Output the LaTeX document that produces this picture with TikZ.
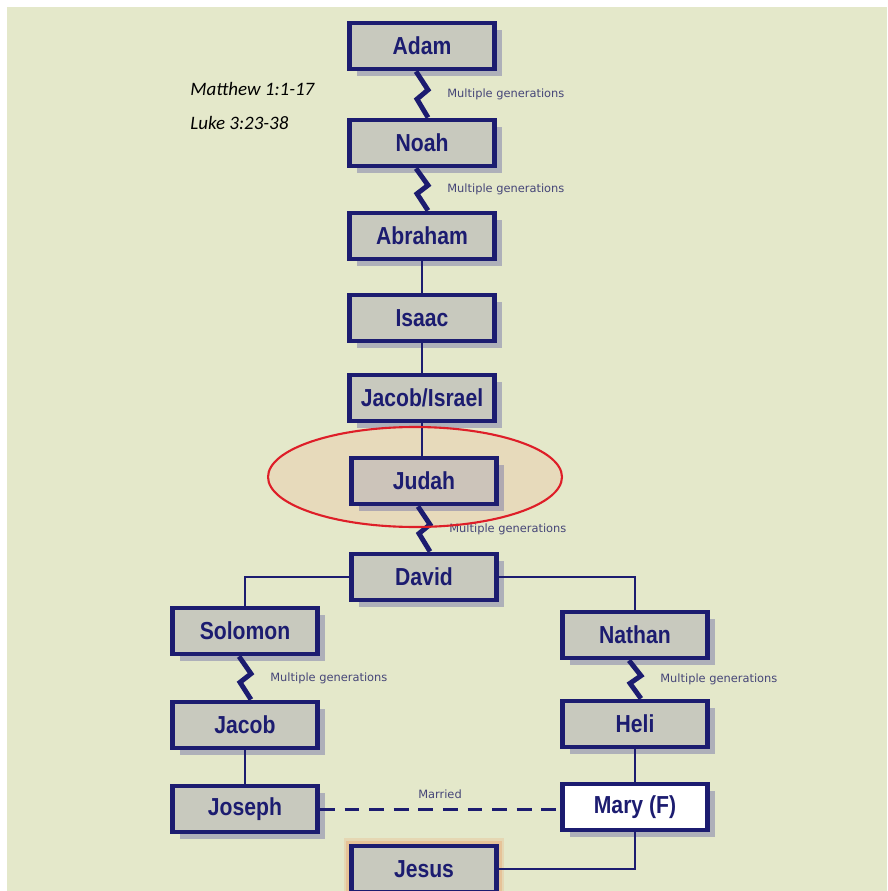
\documentclass[tikz,border=0pt]{standalone}
\usepackage{fontspec}
\setmainfont{Liberation Sans}
\newfontfamily\namefont[FakeStretch=0.86]{Liberation Sans}
\newfontfamily\notefont{Carlito}
\newfontfamily\genfont{DejaVu Sans}
\usetikzlibrary{calc,shadows}
\definecolor{navy}{RGB}{28,28,112}
\definecolor{paper}{RGB}{228,232,202}
\definecolor{boxgray}{RGB}{200,201,190}
\definecolor{judahgray}{RGB}{204,196,186}
\definecolor{shadowblue}{RGB}{110,110,165}
\definecolor{gentext}{RGB}{70,70,120}
\definecolor{circred}{RGB}{222,30,40}
\definecolor{circfill}{RGB}{236,196,165}
\definecolor{glow}{RGB}{235,150,90}

\tikzset{
  namebox/.style={draw=navy, line width=2.8pt, fill=boxgray, minimum width=2.9cm,
    minimum height=0.92cm, inner sep=0pt, text=navy,
    font=\namefont\bfseries\fontsize{14}{16}\selectfont},
  person/.style={namebox, drop shadow={shadow xshift=4pt, shadow yshift=-4pt,
    fill=shadowblue, opacity=0.45}},
  saviour/.style={namebox,
    preaction={draw=glow, line width=9pt, draw opacity=0.2},
    preaction={draw=glow, line width=6pt, draw opacity=0.3}},
  link/.style={draw=navy, line width=1.1pt},
  gens/.style={draw=navy, line width=2.8pt, line join=miter},
  genlabel/.style={font=\genfont\fontsize{6.5}{8}\selectfont, text=gentext, inner sep=0pt},
  source/.style={font=\notefont\itshape\fontsize{10.8}{13}\selectfont, anchor=west, inner sep=0pt},
}

\begin{document}
\begin{tikzpicture}[x=0.02cm, y=-0.02cm]
  \useasboundingbox (0,0) rectangle (887,891);
  \fill[paper] (7,7) rectangle (887,891);
  % highlight behind Judah
  \fill[circfill, fill opacity=0.38] (415,477) ellipse [x radius=2.94cm, y radius=1cm];
  % sources
  \node[source] (matthew) at (190,89) {Matthew 1:1-17};
  \node[source] (luke) at (190,123) {Luke 3:23-38};
  % main line
  \node[person] (adam) at (422,46) {Adam};
  \node[person] (noah) at (422,143) {Noah};
  \node[person] (abraham) at (422,236) {Abraham};
  \node[person] (isaac) at (422,318) {Isaac};
  \node[person] (israel) at (422,398) {Jacob/Israel};
  \node[person, fill=judahgray] (judah) at (424,481) {Judah};
  \node[person] (david) at (424,577) {David};
  % two branches
  \node[person] (solomon) at (245,631) {Solomon};
  \node[person] (jacob) at (245,725) {Jacob};
  \node[person] (joseph) at (245,809) {Joseph};
  \node[person] (nathan) at (635,635) {Nathan};
  \node[person] (heli) at (635,724) {Heli};
  \node[person, fill=white] (mary) at (635,807) {Mary (F)};
  \node[saviour] (jesus) at (424,869) {Jesus};
  % direct links
  \foreach \a/\b in {abraham/isaac, isaac/israel, israel/judah, jacob/joseph, heli/mary}
    \draw[link] (\a.south) -- (\a.south |- \b.north);
  \draw[link] (david.west) -| (solomon.north);
  \draw[link] (david.east) -| (nathan.north);
  \draw[link] (mary.south) |- (jesus.east);
  % skipped generations
  \foreach \a/\b in {adam/noah, noah/abraham, judah/david, solomon/jacob, nathan/heli} {
    \draw[gens] ($(\a.south)+(-6,0)$) -- ($(\a.south)!0.4!(\b.north)+(6,0)$)
      -- ($(\a.south)!0.6!(\b.north)+(-5,0)$) -- ($(\b.north)+(6,0)$);
    \node[genlabel, anchor=west] (gen-\a) at ($(\a.south)!0.5!(\b.north)+(25,0)$) {Multiple generations};
  }
  % marriage
  \draw[navy, line width=1.7pt, dash pattern=on 8.5pt off 5.5pt]
    (joseph.east) -- (joseph.east -| mary.west)
    node[genlabel, midway, above=0.17cm] (married) {Married};
  % highlight outline
  \draw[circred, line width=1.2pt] (415,477) ellipse [x radius=2.94cm, y radius=1cm];
\end{tikzpicture}
\end{document}
